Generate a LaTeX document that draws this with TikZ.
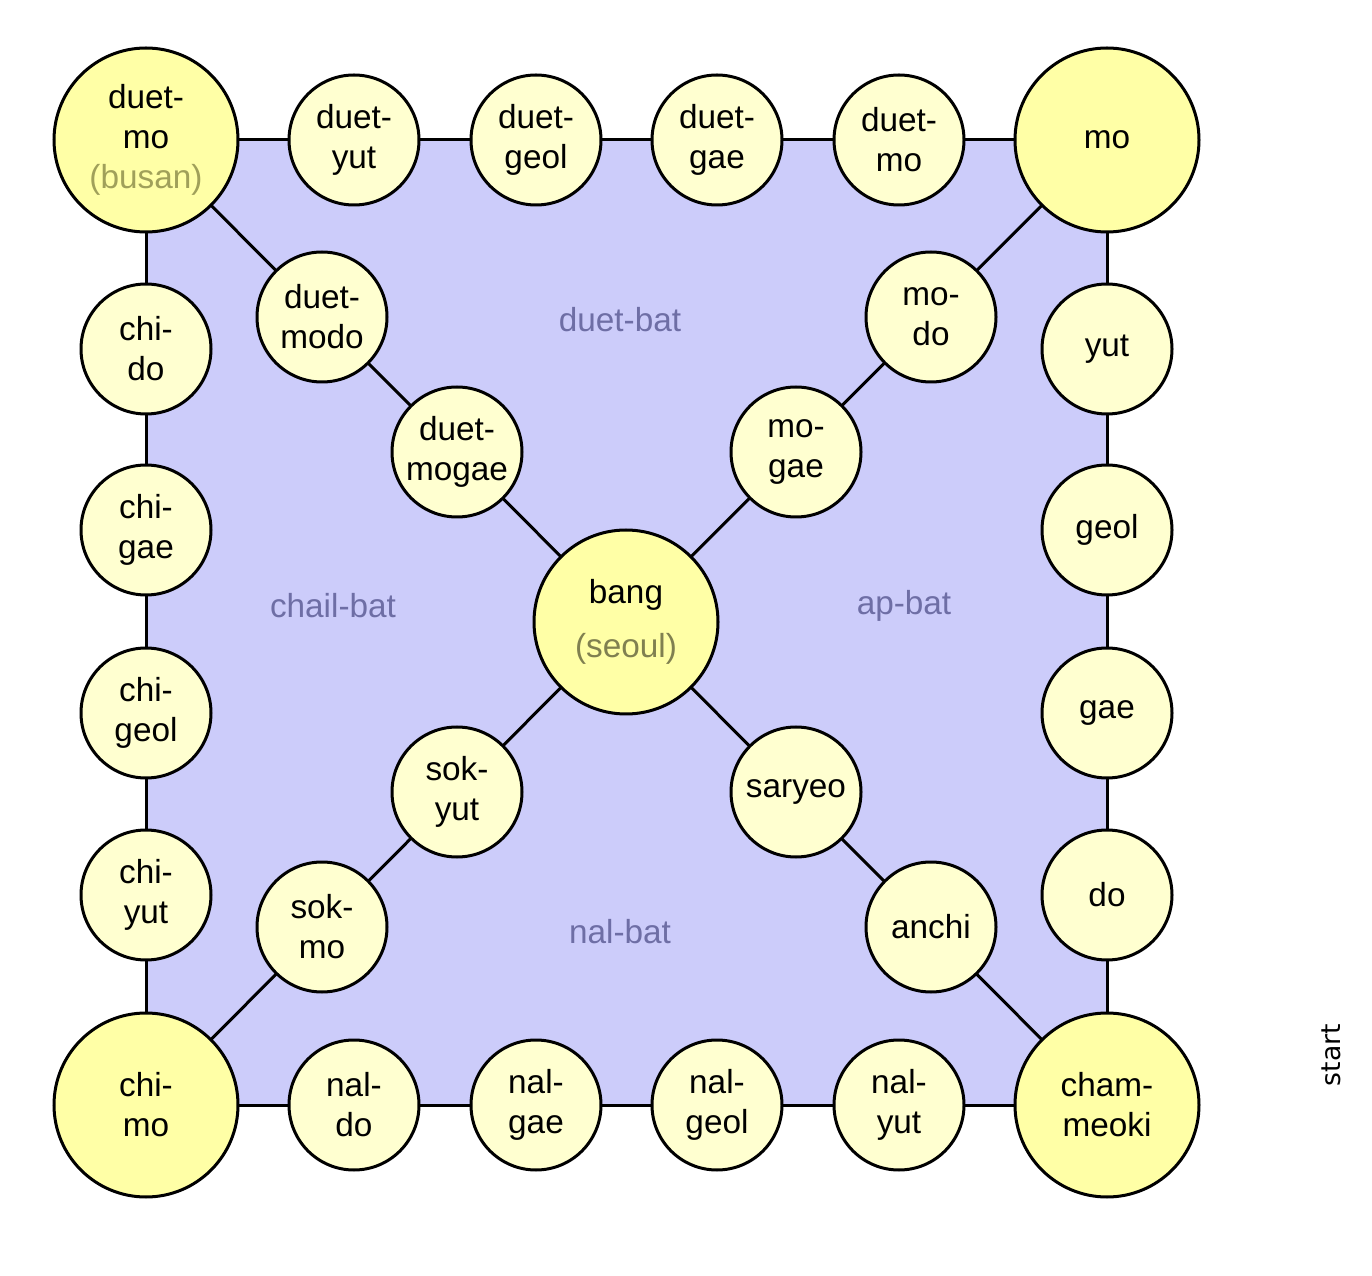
\documentclass[tikz,border=0pt]{standalone}
\usepackage{fontspec}
\setmainfont{Liberation Sans}
\newfontfamily\startfont{DejaVu Sans}
\definecolor{sqfill}{RGB}{204,204,250}
\definecolor{bigfill}{RGB}{255,255,166}
\definecolor{smallfill}{RGB}{255,255,208}
\definecolor{labelcol}{RGB}{110,110,165}
\definecolor{busancol}{RGB}{160,160,90}
\definecolor{seoulcol}{RGB}{128,128,80}
\begin{document}
\begin{tikzpicture}[x=0.75pt,y=-0.75pt,
  txt/.style={font=\fontsize{25}{30}\selectfont, align=center},
  bigc/.style={txt, circle, draw=black, line width=2.25pt, fill=bigfill, minimum size=184*0.75pt, inner sep=0pt},
  smallc/.style={txt, circle, draw=black, line width=2.25pt, fill=smallfill, minimum size=130*0.75pt, inner sep=0pt},
  link/.style={draw=black, line width=2.25pt},
  area/.style={font=\fontsize{25}{30}\selectfont, text=labelcol}]
\useasboundingbox (0,0) rectangle (1372,1276);
% coordinates for layout
\coordinate (TL) at (146,140);
\coordinate (TR) at (1107,140);
\coordinate (BL) at (146,1105);
\coordinate (BR) at (1107,1105);
\coordinate (C) at (626,622);
% background square
\fill[sqfill] (TL) rectangle (BR);
\draw[link] (TL) -- (TR) -- (BR) -- (BL) -- cycle;
\draw[link] (TL) -- (C) -- (BR);
\draw[link] (TR) -- (C) -- (BL);
% area labels
\node[area] (duetbat) at (620,320) {duet-bat};
\node[area] (chailbat) at (333,606) {chail-bat};
\node[area] (apbat) at (904,606) {ap-bat};
\node[area] (nalbat) at (620,932) {nal-bat};
% corner nodes
\node[bigc] (duetmo) at (TL) {duet-\\mo\\\textcolor{busancol}{(busan)}};
\node[bigc] (mo) at (TR) {mo};
\node[bigc] (chimo) at (BL) {chi-\\mo};
\node[bigc] (chammeoki) at (BR) {cham-\\meoki};
\node[bigc] (bang) at (C) {bang\\[10pt]\textcolor{seoulcol}{(seoul)}};
% top row
\node[smallc] (duetyut) at (354,140) {duet-\\yut};
\node[smallc] (duetgeol) at (536,140) {duet-\\geol};
\node[smallc] (duetgae) at (717,140) {duet-\\gae};
\node[smallc] (duetmo2) at (899,140) {duet-\\mo};
% right column
\node[smallc] (yut) at (1107,349) {yut};
\node[smallc] (geol) at (1107,530) {geol};
\node[smallc] (gae) at (1107,713) {gae};
\node[smallc] (do) at (1107,895) {do};
% left column
\node[smallc] (chido) at (146,349) {chi-\\do};
\node[smallc] (chigae) at (146,530) {chi-\\gae};
\node[smallc] (chigeol) at (146,713) {chi-\\geol};
\node[smallc] (chiyut) at (146,895) {chi-\\yut};
% bottom row
\node[smallc] (naldo) at (354,1105) {nal-\\do};
\node[smallc] (nalgae) at (536,1105) {nal-\\gae};
\node[smallc] (nalgeol) at (717,1105) {nal-\\geol};
\node[smallc] (nalyut) at (899,1105) {nal-\\yut};
% diagonals
\node[smallc] (duetmodo) at (322,317) {duet-\\modo};
\node[smallc] (duetmogae) at (457,452) {duet-\\mogae};
\node[smallc] (modo) at (931,317) {mo-\\do};
\node[smallc] (mogae) at (796,452) {mo-\\gae};
\node[smallc] (sokyut) at (457,792) {sok-\\yut};
\node[smallc] (sokmo) at (322,927) {sok-\\mo};
\node[smallc] (saryeo) at (796,792) {saryeo};
\node[smallc] (anchi) at (931,927) {anchi};
% start label
\node[font=\startfont\fontsize{20}{24}\selectfont, rotate=90] (start) at (1331,1055) {start};
\end{tikzpicture}
\end{document}
